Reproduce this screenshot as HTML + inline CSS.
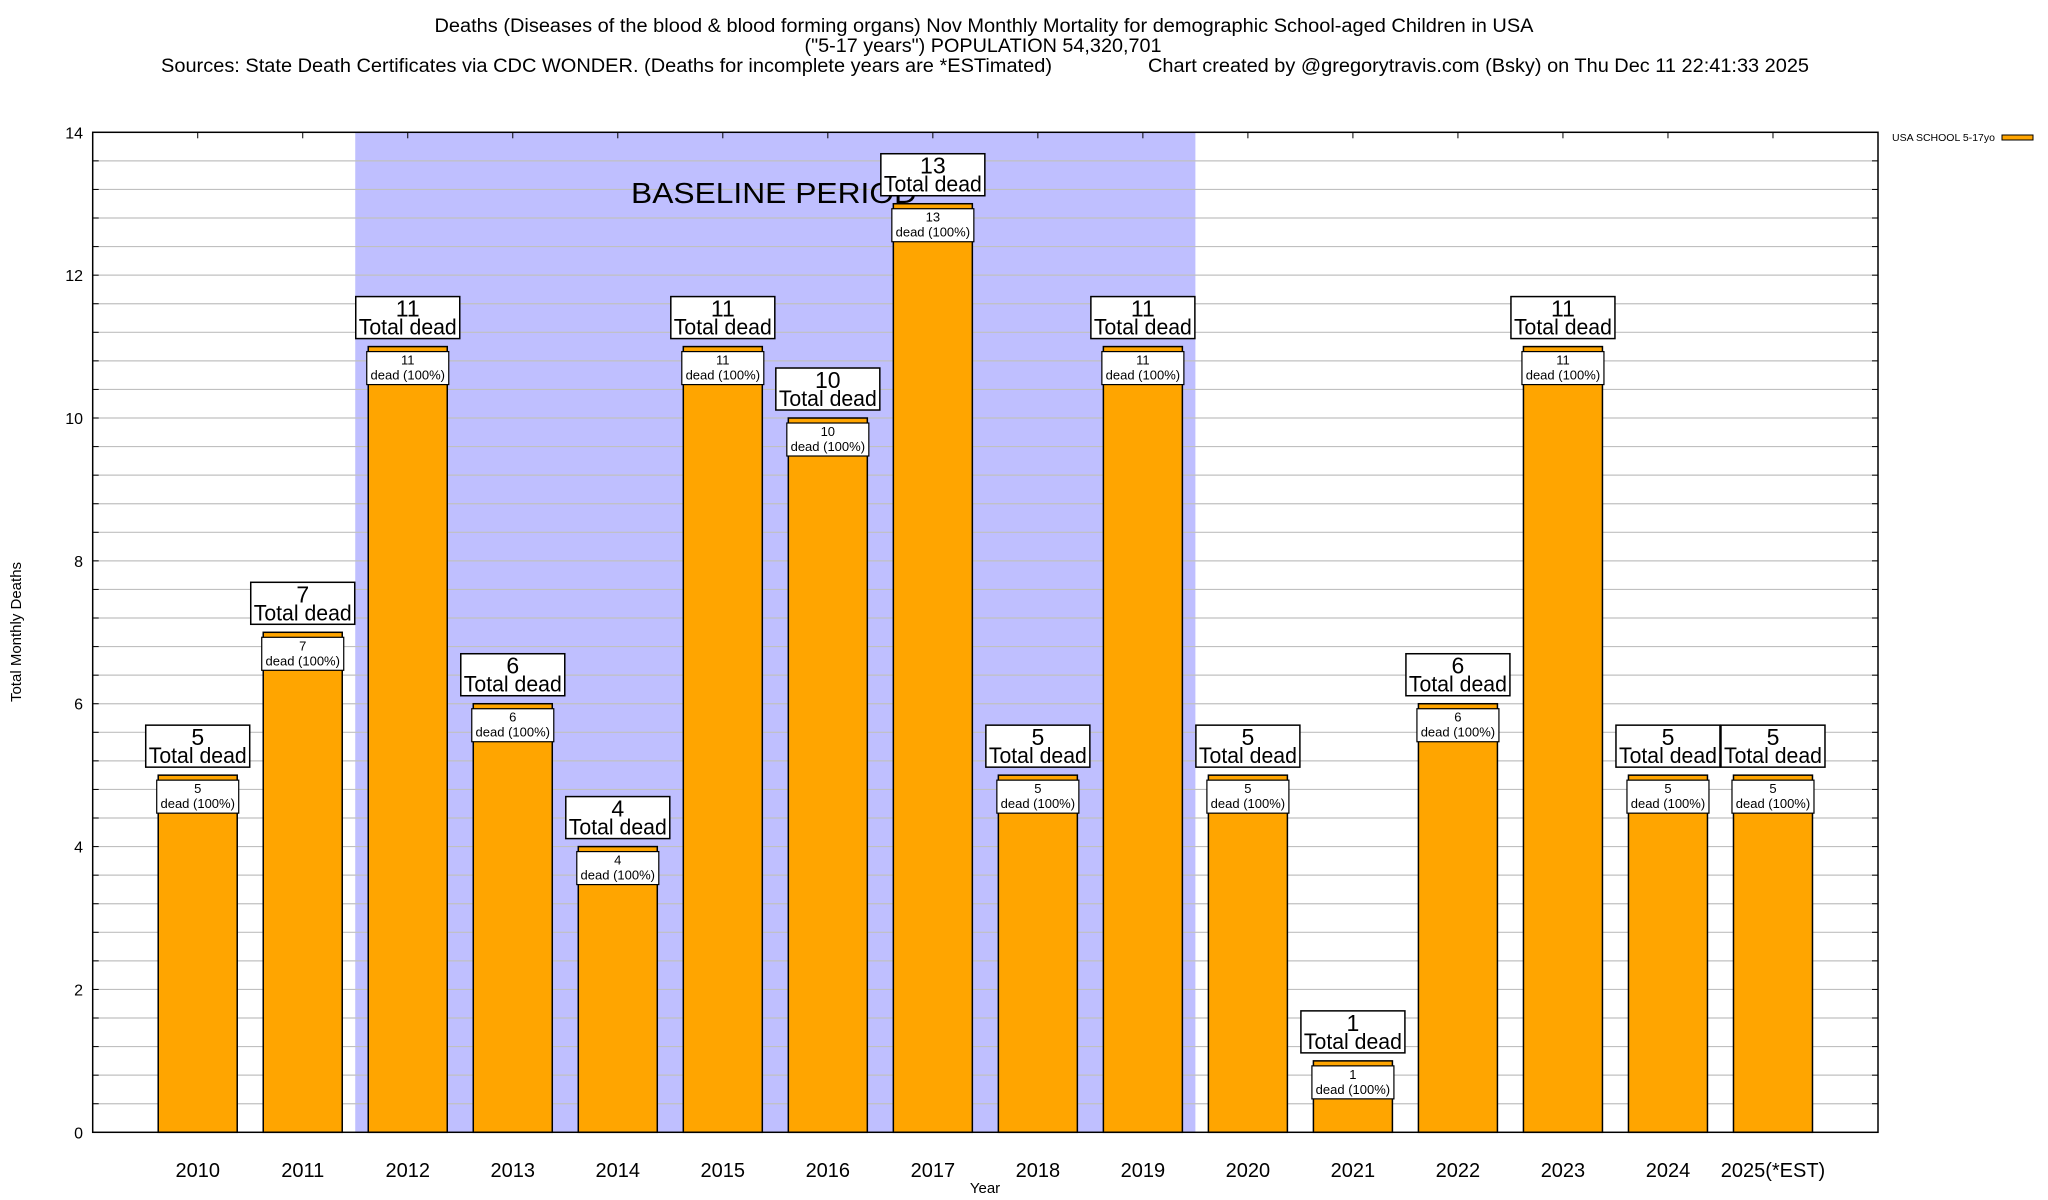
<!DOCTYPE html>
<html><head><meta charset="utf-8"><style>
html,body{margin:0;padding:0;background:#fff}
svg{display:block}
text{font-family:"Liberation Sans",sans-serif;fill:#000}
</style></head><body>
<svg id="chart" width="2048" height="1200" viewBox="0 0 2048 1200" xmlns="http://www.w3.org/2000/svg">
<g>
<text x="984" y="32" font-size="19" text-anchor="middle" textLength="1099" lengthAdjust="spacingAndGlyphs">Deaths (Diseases of the blood &amp; blood forming organs) Nov Monthly Mortality for demographic School-aged Children in USA</text>
<text x="983" y="52" font-size="19" text-anchor="middle" textLength="357" lengthAdjust="spacingAndGlyphs">("5-17 years") POPULATION 54,320,701</text>
<text x="161" y="72" font-size="19" textLength="891" lengthAdjust="spacingAndGlyphs">Sources: State Death Certificates via CDC WONDER. (Deaths for incomplete years are *ESTimated)</text>
<text x="1148" y="72" font-size="19" textLength="661" lengthAdjust="spacingAndGlyphs">Chart created by @gregorytravis.com (Bsky) on Thu Dec 11 22:41:33 2025</text>
</g>
<g id="plot"></g>
</svg>
<script>
const categories=["2010","2011","2012","2013","2014","2015","2016","2017","2018","2019","2020","2021","2022","2023","2024","2025(*EST)"];
const deaths=[5,7,11,6,4,11,10,13,5,11,5,1,6,11,5,5];
const yTicks=[0,2,4,6,8,10,12,14];
const baselineRange=["2012","2019"];

const NS="http://www.w3.org/2000/svg";
const L=92.7,R=1878,T=132.3,B=1132.3,YMAX=14;
const step=(R-L)/(categories.length+1);
const xc=i=>L+(i+1)*step;
const y=v=>B-(v/YMAX)*(B-T);
const g=document.getElementById('plot');
function mk(tag,attrs,parent){const e=document.createElementNS(NS,tag);for(const k in attrs)e.setAttribute(k,attrs[k]);(parent||g).appendChild(e);return e;}

const b0=categories.indexOf(baselineRange[0]),b1=categories.indexOf(baselineRange[1]);
const shade=mk('rect',{x:xc(b0)-step/2,y:T,width:(b1-b0+1)*step,height:B-T,fill:'#bfbfff'});



for(let v=0.4;v<YMAX-0.01;v+=0.4){
  const gl=mk('line',{x1:L,x2:R,y1:y(v),y2:y(v),stroke:'#c0c0c0','stroke-width':1.2});
  
  
  mk('line',{x1:L,x2:L+6,y1:y(v),y2:y(v),stroke:'#000','stroke-width':1});
  mk('line',{x1:R-6,x2:R,y1:y(v),y2:y(v),stroke:'#000','stroke-width':1});
}
const bl=mk('text',{x:631,y:203,'font-size':29,textLength:286,lengthAdjust:'spacingAndGlyphs'});
bl.textContent='BASELINE PERIOD';



yTicks.forEach(v=>{
  const t=mk('text',{x:83,y:y(v)+6,'font-size':16,'text-anchor':'end'});
  t.textContent=v;
  
  
});

const bw=79;
categories.forEach((c,i)=>{
  const v=deaths[i],cx=xc(i),top=y(v);
  const bar=mk('rect',{x:cx-bw/2,y:top,width:bw,height:B-top,fill:'#ffa500',stroke:'#000','stroke-width':1.5});
  
  
  const ib=mk('rect',{x:cx-41,y:top+5,width:82,height:33,fill:'#fff',stroke:'#000','stroke-width':1.2});
  
  
  const t1=mk('text',{x:cx,y:top+18,'font-size':13,'text-anchor':'middle'});t1.textContent=v;
  const t2=mk('text',{x:cx,y:top+33,'font-size':13,'text-anchor':'middle'});t2.textContent='dead (100%)';
  const ob=mk('rect',{x:cx-52,y:top-50,width:104,height:42,fill:'#fff',stroke:'#000','stroke-width':1.5});
  
  
  const t3=mk('text',{x:cx,y:top-30,'font-size':23,'text-anchor':'middle'});t3.textContent=v;
  const t4=mk('text',{x:cx,y:top-12,'font-size':22,'text-anchor':'middle',textLength:98,lengthAdjust:'spacingAndGlyphs'});t4.textContent='Total dead';
  const xl=mk('text',{x:cx,y:1177,'font-size':20,'text-anchor':'middle'});xl.textContent=c;
  
  
  mk('line',{x1:cx,x2:cx,y1:T,y2:T+6,stroke:'#000','stroke-width':1});
});
const fr=mk('rect',{x:L,y:T,width:R-L,height:B-T,fill:'none',stroke:'#000','stroke-width':1.5});


const yt=mk('text',{x:0,y:0,'font-size':15,'text-anchor':'middle',transform:'translate(21,632) rotate(-90)'});
yt.textContent='Total Monthly Deaths';


const xt=mk('text',{x:985,y:1193,'font-size':15,'text-anchor':'middle'});
xt.textContent='Year';


const lg=mk('g',{});


const lt=mk('text',{x:1892,y:141,'font-size':10,textLength:103,lengthAdjust:'spacingAndGlyphs'},lg);lt.textContent='USA SCHOOL 5-17yo';
mk('rect',{x:2002,y:135,width:31,height:5,fill:'#ffa500',stroke:'#000','stroke-width':1},lg);
</script>
</body></html>
